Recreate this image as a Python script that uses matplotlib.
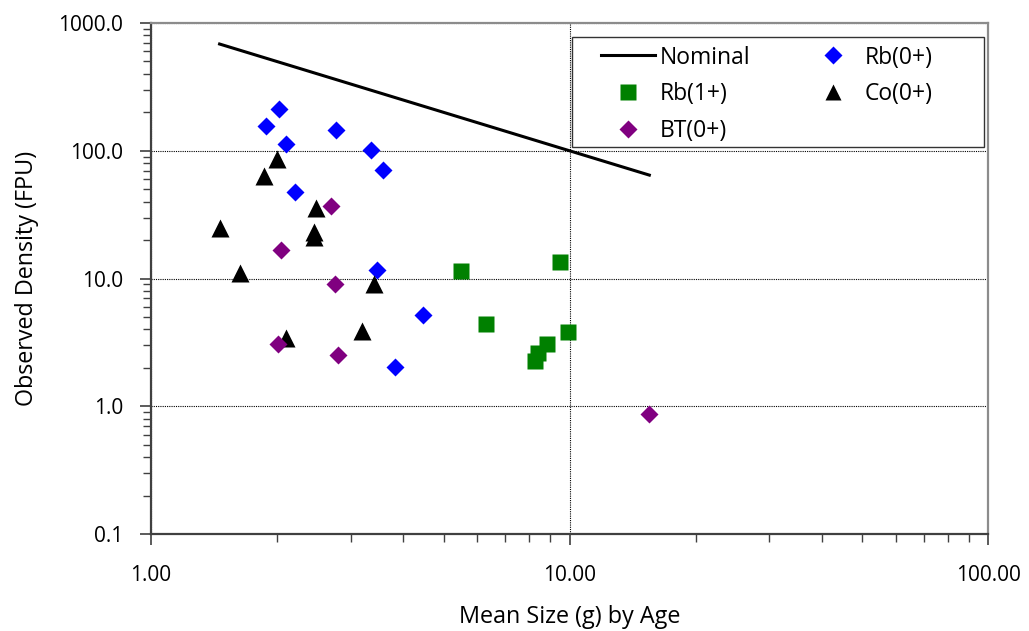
import matplotlib
matplotlib.use("Agg")
import matplotlib.pyplot as plt
from matplotlib.ticker import LogLocator, FixedFormatter, FixedLocator, NullFormatter
from matplotlib.patches import Rectangle

plt.rcParams['font.family'] = ['Open Sans', 'DejaVu Sans']

nominal_x = [1.46, 15.5]
nominal_y = [685, 64.5]

rb0_x = [2.02, 1.88, 2.10, 2.77, 3.35, 3.59, 2.21, 3.47, 4.46, 3.82]
rb0_y = [211, 155, 113, 146, 101, 70.3, 47.8, 11.6, 5.2, 2.02]

rb1_x = [5.50, 9.50, 6.31, 9.91, 8.82, 8.39, 8.27]
rb1_y = [11.4, 13.4, 4.38, 3.83, 3.05, 2.60, 2.27]

co0_x = [2.00, 1.86, 1.46, 2.48, 2.45, 2.45, 1.63, 3.42, 2.10, 3.19]
co0_y = [86.7, 63.4, 24.8, 35.6, 23.1, 21.1, 11.1, 9.05, 3.40, 3.90]

bt0_x = [2.69, 2.05, 2.75, 2.01, 2.80, 15.45]
bt0_y = [37.1, 16.7, 9.05, 3.05, 2.52, 0.87]

x_ticks = [1, 10, 100]
x_tick_labels = ["1.00", "10.00", "100.00"]
y_ticks = [0.1, 1, 10, 100, 1000]
y_tick_labels = ["0.1", "1.0", "10.0", "100.0", "1000.0"]

fig = plt.figure(figsize=(10.29, 6.31), dpi=100)
ax = fig.add_axes([0.1465, 0.1537, 0.8141, 0.8098])
ax.set_xscale('log')
ax.set_yscale('log')
ax.set_xlim(1, 100)
ax.set_ylim(0.1, 1000)

ax.plot(nominal_x, nominal_y, color='black', lw=2.2, zorder=3, label='Nominal')
ax.plot(rb0_x, rb0_y, 'D', color='#0000FF', ms=9.5, mec='none', zorder=4, label='Rb(0+)')
ax.plot(rb1_x, rb1_y, 's', color='#008000', ms=12, mec='none', zorder=4, label='Rb(1+)')
ax.plot(co0_x, co0_y, '^', color='black', ms=12.5, mec='none', zorder=4, label='Co(0+)')
ax.plot(bt0_x, bt0_y, 'D', color='#800080', ms=9.5, mec='none', zorder=4, label='BT(0+)')

ax.xaxis.set_major_locator(FixedLocator(x_ticks))
ax.xaxis.set_major_formatter(FixedFormatter(x_tick_labels))
ax.xaxis.set_minor_locator(LogLocator(base=10, subs=range(2, 10)))
ax.xaxis.set_minor_formatter(NullFormatter())
ax.yaxis.set_major_locator(FixedLocator(y_ticks))
ax.yaxis.set_major_formatter(FixedFormatter(y_tick_labels))
ax.yaxis.set_minor_locator(LogLocator(base=10, subs=range(2, 10)))
ax.yaxis.set_minor_formatter(NullFormatter())

ax.grid(True, which='major', color='black', linestyle=(0, (1, 1)), linewidth=0.8)
ax.tick_params(which='major', direction='out', length=8, width=1.2, color='#404040',
               labelsize=15, pad=12)
ax.tick_params(which='minor', direction='out', length=6, width=1.0, color='#404040')
ax.tick_params(axis='x', which='major', pad=14)

for s in ['left', 'bottom']:
    ax.spines[s].set_color('#404040')
    ax.spines[s].set_linewidth(1.6)
for s in ['top', 'right']:
    ax.spines[s].set_color('#8c8c8c')
    ax.spines[s].set_linewidth(1.6)

ax.set_xlabel('Mean Size (g) by Age', fontsize=16.8, labelpad=14)
ax.set_ylabel('Observed Density (FPU)', fontsize=16.8, labelpad=14)

# legend frame
ax.add_patch(Rectangle((0.503, 0.7573), 0.4922, 0.2153, transform=ax.transAxes,
                       facecolor='white', edgecolor='#333333', lw=1.0, zorder=5))

h, l = ax.get_legend_handles_labels()
order = ['Nominal', 'Rb(1+)', 'BT(0+)', 'Rb(0+)', 'Co(0+)']
hd = dict(zip(l, h))
leg = ax.legend([hd[k] for k in order], order, ncol=2, loc='upper left',
                bbox_to_anchor=(0.5375, 0.956), fontsize=16.5, frameon=False,
                borderpad=0, labelspacing=0.56, handlelength=2.36,
                columnspacing=2.45, handletextpad=0.2, borderaxespad=0)
leg.set_zorder(6)
for lh in leg.legend_handles:
    if hasattr(lh, 'set_markersize'):
        if lh.get_marker() in ('D',):
            lh.set_markersize(9)
        elif lh.get_marker() in ('s', '^'):
            lh.set_markersize(12)

fig.savefig('out.png', dpi=100)
